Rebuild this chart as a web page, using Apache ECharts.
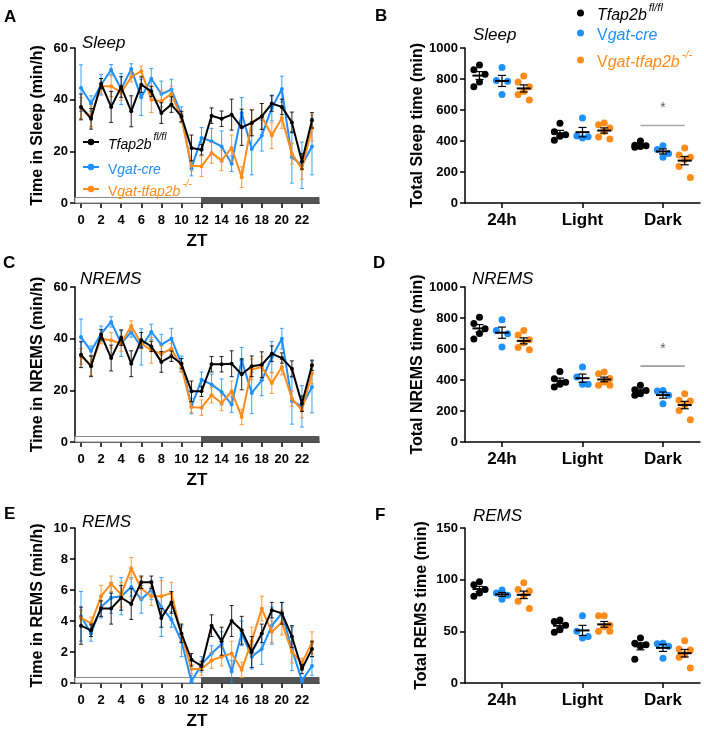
<!DOCTYPE html>
<html><head><meta charset="utf-8">
<script src="https://cdn.jsdelivr.net/npm/echarts@6/dist/echarts.min.js"></script>
<style>html,body{margin:0;padding:0;background:#fff}#c{width:704px;height:729px}</style>
</head><body><div id="c"></div>
<script>
// ---------------- DATA ----------------
const ztHours = [0,1,2,3,4,5,6,7,8,9,10,11,12,13,14,15,16,17,18,19,20,21,22,23];
const ztTicks = [0,2,4,6,8,10,12,14,16,18,20,22];
const periods = ['24h','Light','Dark'];
const groupNames = ['Tfap2b fl/fl','Vgat-cre','Vgat-tfap2b -/-'];

// Panel A: Sleep (min/h)
const sleepK  = [37.2,32.6,46.2,37.2,44.9,35.5,45.8,43.2,34.8,38.1,33.5,21.3,20.6,33.8,32.6,34.2,29.3,31.0,33.5,38.5,37.2,31.2,16.1,32.0];
const sleepKe = [5,4,2,6,4,6,3,2,4,3,2,5,2,3,3,6,7,5,5,3,3,4,3,3];
const sleepB  = [44.5,38.5,45.8,51.6,44.1,51.9,40.9,48.1,42.2,43.9,34.2,13.5,25.2,23.9,21.9,15.2,34.8,20.9,26.1,36.8,44.1,17.7,14.6,21.9];
const sleepBe = [9,3,4,2,6,2,7,4,5,4,3,3,4,5,6,3,6,10,6,5,5,10,9,11];
const sleepO  = [36.8,33.5,45.2,45.2,42.8,48.8,51.0,40.0,39.4,42.3,32.9,14.5,14.2,19.4,16.5,21.3,10.0,31.2,33.5,26.1,32.9,19.1,13.2,29.0];
const sleepOe = [4,4,3,4,3,2,2,5,4,3,2,2,4,4,4,5,4,5,5,5,4,4,4,5];

// Panel C: NREMS (min/h)
const nremK  = [33.8,29.3,41.5,32.5,40.4,30.3,39.4,37.0,31.0,33.2,30.3,19.6,19.6,30.1,30.1,30.3,26.2,29.3,29.9,34.2,32.5,28.4,14.8,29.7];
const nremKe = [5,4,2,5,3,5,3,2,4,2,2,4,2,3,3,5,6,4,5,3,2,3,3,2];
const nremB  = [40.6,35.2,41.9,46.5,38.1,42.6,36.8,42.6,37.7,40.0,30.3,13.9,24.1,22.3,19.4,14.5,31.6,19.0,23.9,32.9,40.0,15.9,13.8,21.3];
const nremBe = [7,2,3,2,5,2,7,3,4,4,3,3,3,4,5,3,5,8,6,6,4,9,8,10];
const nremO  = [33.2,29.7,40.0,39.4,38.1,44.9,38.1,35.5,34.2,36.1,29.0,13.5,13.3,18.1,15.1,19.6,9.7,28.1,29.0,22.8,29.0,16.8,12.3,26.5];
const nremOe = [3,4,2,3,3,2,2,5,3,2,2,2,3,3,3,4,3,4,4,4,3,3,3,4];

// Panel E: REMS (min/h)
const remK  = [3.7,3.4,4.8,4.8,5.5,5.1,6.5,6.5,4.2,5.2,3.2,1.5,1.1,3.7,2.7,4.0,3.4,2.0,3.2,4.7,4.5,3.0,0.9,2.2];
const remKe = [1.2,0.4,0.5,1.0,0.8,1.0,0.4,0.4,0.6,0.7,0.6,0.4,0.3,0.7,0.9,1.0,0.9,1.0,0.6,0.5,0.7,0.7,0.3,0.5];
const remB  = [4.3,3.2,4.9,5.5,5.6,6.2,5.4,6.0,4.9,4.1,2.7,0.1,1.2,1.9,2.5,0.75,3.2,1.7,2.2,3.7,4.5,2.2,0.15,1.1];
const remBe = [1.6,0.5,0.7,1.0,1.2,0.6,0.9,0.6,1.9,0.5,1.0,0.4,0.5,0.5,0.8,0.7,0.8,0.8,1.0,1.2,0.7,1.4,0.2,0.6];
const remO  = [4.2,3.85,5.6,6.4,5.7,7.4,6.1,5.6,5.6,5.8,3.1,0.9,0.9,1.45,1.7,1.9,0.85,2.7,4.8,3.3,3.9,2.0,1.3,2.6];
const remOe = [0.5,0.4,0.7,0.5,0.8,0.7,0.7,0.6,1.0,0.7,0.5,0.3,0.4,0.5,0.6,0.8,0.5,0.9,0.8,0.7,0.8,0.7,0.3,0.7];

// Panel B: Total sleep time (min), per period [24h, Light, Dark]
const sleepTotK = [[890,860,830,780,750],[515,460,440,430,405],[400,372,370,365,360]];
const sleepTotB = [[875,790,785,700],[548,432,428,420],[370,345,320,295]];
const sleepTotO = [[820,780,750,720,700,665],[516,505,484,462,426,413],[355,310,295,280,235,165]];
// Panel D: Total NREMS time (min)
const nremTotK = [[805,765,730,700,665],[455,408,385,372,355],[366,337,333,312,301]];
const nremTotB = [[789,720,699,613],[484,419,372,372],[333,329,301,247]];
const nremTotO = [[720,690,660,640,610,595],[452,441,409,387,366,366],[312,269,264,237,204,144]];
// Panel F: Total REMS time (min)
const remTotK = [[98,95,90.5,87,84],[61,59.5,56,51.5,49],[43.5,38.5,37,35.5,23]];
const remTotB = [[90,87,85,81],[65,50,45,43.5],[38.5,38,35.5,24]];
const remTotO = [[97,90.5,89,84.5,79,72],[65,65,56,54.5,50,50],[41,33,32,27.5,25,14.5]];

// significance (Dark: Tfap2b fl/fl vs Vgat-tfap2b -/-), bracket level
const sigSleep = 500;
const sigNrem = 490;

// light / dark phases (ZT)
const phases = [[0,12,0],[12,24,1]];

// ---------------- STYLE ----------------
const FONT = '"Liberation Sans", Arial, Helvetica, sans-serif';
const COLORS = ['#000000','#1E90FF','#FF8C1A'];
const GROUP_OFF = [-0.28, 0, 0.27];
const JIT = [0, -0.07, 0.07, 0, -0.07, 0.07];

const lineGrids = [
  {left:75, top:48, width:244, height:155},
  {left:75, top:287, width:244, height:155},
  {left:75, top:528, width:244, height:155}
];
const dotGrids = [
  {left:465, top:48, width:235, height:155},
  {left:465, top:287, width:235, height:155},
  {left:465, top:528, width:235, height:155}
];

const axLine = {show:true, onZero:false, lineStyle:{color:'#000', width:1.5}};
const axTick = {show:true, length:5, inside:false, lineStyle:{color:'#000', width:1.5}};

function lineX(gi){
  return {type:'value', gridIndex:gi, min:-0.6, max:23.7,
    axisLine:axLine,
    axisTick:Object.assign({}, axTick, {customValues:ztTicks}),
    axisLabel:{customValues:ztTicks, margin:11, color:'#000', fontFamily:FONT, fontWeight:'bold', fontSize:13},
    splitLine:{show:false},
    name:'ZT', nameLocation:'middle', nameGap:30,
    nameTextStyle:{color:'#000', fontFamily:FONT, fontWeight:'bold', fontSize:17}};
}
function dotX(gi){
  return {type:'value', gridIndex:gi, min:-0.46, max:2.46,
    axisLine:axLine,
    axisTick:Object.assign({}, axTick, {customValues:[0,1,2]}),
    axisLabel:{customValues:[0,1,2], formatter:v=>periods[Math.round(v)], margin:9, color:'#000', fontFamily:FONT, fontWeight:'bold', fontSize:17},
    splitLine:{show:false}};
}
function yAx(gi, max, interval, name, gap){
  return {type:'value', gridIndex:gi, min:0, max:max, interval:interval,
    axisLine:axLine, axisTick:axTick,
    axisLabel:{margin:7, color:'#000', fontFamily:FONT, fontWeight:'bold', fontSize:13, formatter:v=>String(v)},
    splitLine:{show:false},
    name:name, nameLocation:'middle', nameGap:gap, nameRotate:90,
    nameTextStyle:{color:'#000', fontFamily:FONT, fontWeight:'bold', fontSize:16}};
}

function errRender(color){
  return function(params, api){
    const x = api.value(0), y = api.value(1), e = api.value(2);
    const t = api.coord([x, y + e]), b = api.coord([x, Math.max(0, y - e)]);
    const w = 2;
    const st = {stroke:color, lineWidth:1, opacity:0.85};
    return {type:'group', children:[
      {type:'line', shape:{x1:t[0], y1:t[1], x2:b[0], y2:b[1]}, style:st},
      {type:'line', shape:{x1:t[0]-w, y1:t[1], x2:t[0]+w, y2:t[1]}, style:st},
      {type:'line', shape:{x1:b[0]-w, y1:b[1], x2:b[0]+w, y2:b[1]}, style:st}
    ]};
  };
}
function phaseRender(params, api){
  const cs = params.coordSys;
  const s = api.value(0), e = api.value(1), kind = api.value(2);
  const y0 = api.coord([0,0])[1];
  const x1 = kind === 0 ? cs.x : api.coord([s,0])[0];
  const x2 = kind === 1 ? cs.x + cs.width : api.coord([e,0])[0];
  return {type:'rect', shape:{x:x1, y:y0-5.5, width:x2-x1, height:5.5},
    style: kind === 0 ? {fill:'#fff', stroke:'#8a8a8a', lineWidth:1} : {fill:'#555555', stroke:'#555555', lineWidth:1}};
}
function meanRender(params, api){
  const x = api.value(0), m = api.value(1), se = api.value(2);
  const c = api.coord([x, m]), t = api.coord([x, m + se]), b = api.coord([x, m - se]);
  const st = {stroke:'#000', lineWidth:1.2};
  return {type:'group', children:[
    {type:'line', shape:{x1:c[0]-7, y1:c[1], x2:c[0]+7, y2:c[1]}, style:{stroke:'#000', lineWidth:2}},
    {type:'line', shape:{x1:t[0], y1:t[1], x2:b[0], y2:b[1]}, style:st},
    {type:'line', shape:{x1:t[0]-4, y1:t[1], x2:t[0]+4, y2:t[1]}, style:st},
    {type:'line', shape:{x1:b[0]-4, y1:b[1], x2:b[0]+4, y2:b[1]}, style:st}
  ]};
}
function stats(arr){
  const n = arr.length, m = arr.reduce((a,b)=>a+b,0)/n;
  const sd = Math.sqrt(arr.reduce((a,b)=>a+(b-m)*(b-m),0)/(n-1));
  return [m, sd/Math.sqrt(n)];
}

const series = [];
// phase bars
[0,1,2].forEach(gi=>{
  series.push({type:'custom', xAxisIndex:gi, yAxisIndex:gi, data:phases, renderItem:phaseRender, encode:{x:[0,1]}, z:1, silent:true});
});
const linePanels = [
  [[sleepK,sleepKe],[sleepB,sleepBe],[sleepO,sleepOe]],
  [[nremK,nremKe],[nremB,nremBe],[nremO,nremOe]],
  [[remK,remKe],[remB,remBe],[remO,remOe]]
];
const drawOrder = [1,2,0];
linePanels.forEach((panel, gi)=>{
  drawOrder.forEach((k, ord)=>{
    const vals = panel[k][0], errs = panel[k][1];
    series.push({type:'custom', xAxisIndex:gi, yAxisIndex:gi, renderItem:errRender(COLORS[k]),
      data: ztHours.map((h,i)=>[h, vals[i], errs[i]]), encode:{x:0, y:1}, z:2+ord*2, silent:true});
    series.push({type:'line', name:groupNames[k], xAxisIndex:gi, yAxisIndex:gi,
      data: ztHours.map((h,i)=>[h, vals[i]]), symbol:'circle', symbolSize:4, showSymbol:true,
      lineStyle:{width:2, color:COLORS[k]}, itemStyle:{color:COLORS[k]}, z:3+ord*2, silent:true});
  });
});
const dotPanels = [
  [sleepTotK, sleepTotB, sleepTotO],
  [nremTotK, nremTotB, nremTotO],
  [remTotK, remTotB, remTotO]
];
dotPanels.forEach((panel, p)=>{
  const gi = 3 + p;
  const meanData = [];
  panel.forEach((grp, k)=>{
    const pts = [];
    grp.forEach((vals, ci)=>{
      const sorted = vals.slice().sort((a,b)=>b-a);
      sorted.forEach((v, j)=>pts.push([ci + GROUP_OFF[k] + JIT[j % JIT.length], v]));
      const s = stats(vals);
      meanData.push([ci + GROUP_OFF[k], s[0], s[1]]);
    });
    series.push({type:'scatter', name:groupNames[k], xAxisIndex:gi, yAxisIndex:gi, data:pts,
      symbolSize:7, itemStyle:{color:COLORS[k], opacity:1}, z:3, silent:true});
  });
  series.push({type:'custom', xAxisIndex:gi, yAxisIndex:gi, data:meanData, renderItem:meanRender, encode:{x:0,y:1}, z:5, silent:true});
});
// significance brackets
[[3, sigSleep, 1000, '#a6a6a6', 1.5], [4, sigNrem, 1000, '#555555', 1]].forEach(([gi, lvl, max, col, w])=>{
  series.push({type:'line', xAxisIndex:gi, yAxisIndex:gi, data:[[2+GROUP_OFF[0], lvl],[2+GROUP_OFF[2], lvl]],
    symbol:'none', lineStyle:{color:col, width:w}, z:2, silent:true});
  series.push({type:'scatter', xAxisIndex:gi, yAxisIndex:gi, data:[[2, lvl + 0.11*max]], symbolSize:1,
    itemStyle:{color:'rgba(0,0,0,0)'}, label:{show:true, position:'inside', formatter:'*', color:'#333', fontSize:14, fontFamily:FONT}, silent:true});
});

// titles
function ttl(text, left, top, letter){
  return {text:text, left:left, top:top, padding:0,
    textStyle: letter ? {fontFamily:FONT, fontWeight:'bold', fontSize:17, color:'#000'}
                      : {fontFamily:FONT, fontStyle:'italic', fontWeight:'normal', fontSize:17, color:'#000'}};
}
const titles = [
  ttl('A',4,9,true), ttl('B',375,8,true), ttl('C',3,255,true), ttl('D',373,255,true), ttl('E',4,506,true), ttl('F',375,507,true),
  ttl('Sleep',82,35), ttl('Sleep',473,27), ttl('NREMS',80,271), ttl('NREMS',472,271), ttl('REMS',82,514), ttl('REMS',473,508)
];

// legends
function richFor(col, fs, pad){
  return {
    i:{fontStyle:'italic', color:col, fontSize:fs, fontFamily:FONT, lineHeight:fs+6, verticalAlign:'bottom'},
    ip:{fontStyle:'italic', color:col, fontSize:fs, fontFamily:FONT, lineHeight:fs+6, verticalAlign:'bottom', padding:[0,0,0,pad]},
    np:{fontStyle:'normal', color:col, fontSize:fs, fontFamily:FONT, lineHeight:fs+6, verticalAlign:'bottom', padding:[0,0,0,pad]},
    s:{fontStyle:'italic', color:col, fontSize:Math.round(fs*0.68), fontFamily:FONT, lineHeight:Math.round(fs*0.68)+2, verticalAlign:'top', padding:[0,0,0,2]}
  };
}
const legendText = {
  'Tfap2b fl/fl':'{ip|Tfap2b}{s|fl/fl}',
  'Vgat-cre':'{np|V}{i|gat-cre}',
  'Vgat-tfap2b -/-':'{np|V}{i|gat-tfap2b}{s|-/-}'
};
const legends = [];
const legA = [[82,132],[82,163],[82,179]];
const legB = [[577,2],[577,28],[577,49]];
groupNames.forEach((nm,k)=>{
  legends.push({left:legA[k][0], top:legA[k][1], orient:'horizontal', padding:0, itemGap:0, selectedMode:false,
    itemWidth:16, itemHeight:8, data:[{name:nm}], formatter:n=>legendText[n],
    textStyle:{rich:richFor(COLORS[k],14,4)}});
  legends.push({left:legB[k][0], top:legB[k][1], orient:'horizontal', padding:0, itemGap:0, selectedMode:false,
    itemWidth:7, itemHeight:7, icon:'circle', data:[{name:nm, icon:'circle'}], formatter:n=>legendText[n],
    textStyle:{rich:richFor(COLORS[k],16,8)}});
});

const option = {
  animation:false,
  backgroundColor:'#fff',
  textStyle:{fontFamily:FONT},
  title:titles,
  legend:legends,
  tooltip:{show:false},
  grid:[...lineGrids, ...dotGrids].map(g=>Object.assign({containLabel:false, outerBoundsMode:'none'}, g)),
  xAxis:[lineX(0), lineX(1), lineX(2), dotX(3), dotX(4), dotX(5)],
  yAxis:[
    yAx(0,60,20,'Time in Sleep (min/h)',29),
    yAx(1,60,20,'Time in NREMS (min/h)',29),
    yAx(2,10,2,'Time in REMS (min/h)',29),
    yAx(3,1000,200,'Total Sleep time (min)',39),
    yAx(4,1000,200,'Total NREMS time (min)',39),
    yAx(5,150,50,'Total REMS time (min)',35)
  ],
  series:series
};
const chart = echarts.init(document.getElementById('c'), null, {renderer:'canvas', width:704, height:729});
chart.setOption(option);
</script>
</body></html>
